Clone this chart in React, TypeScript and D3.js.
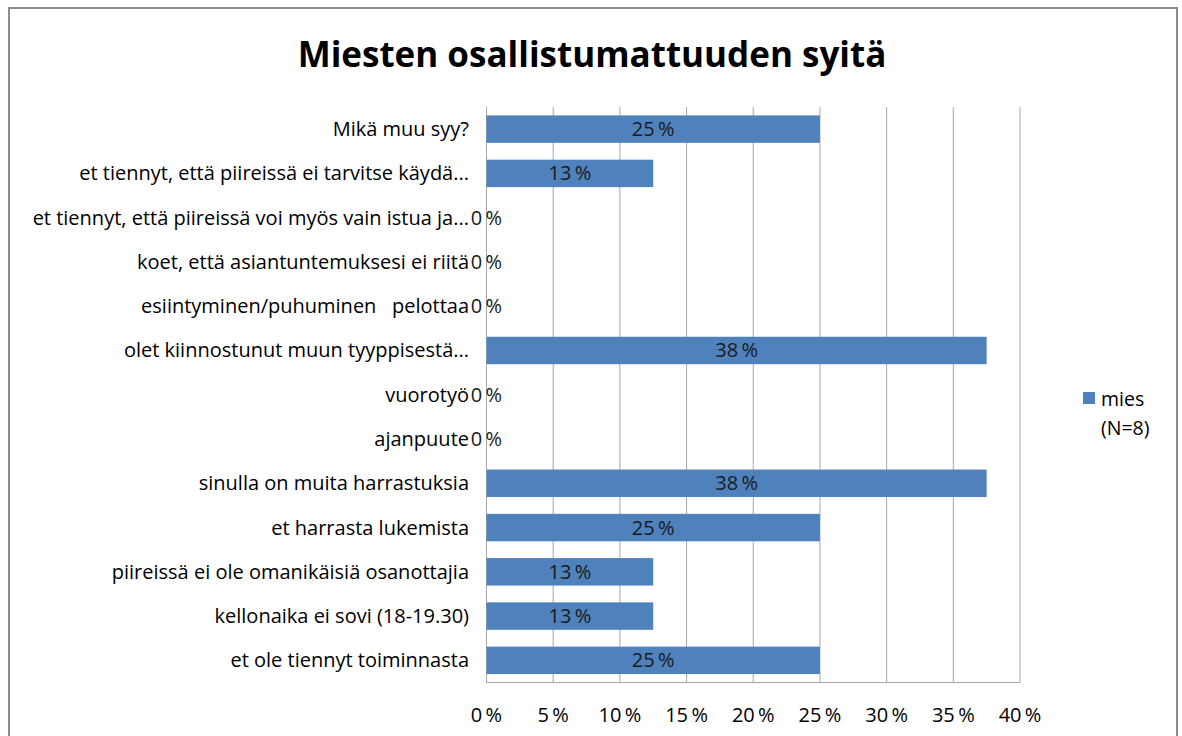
import React from "react";
import * as d3 from "d3";

const categories: string[] = [
  "Mikä muu syy?",
  "et tiennyt, että piireissä ei tarvitse käydä...",
  "et tiennyt, että piireissä voi myös vain istua ja...",
  "koet, että asiantuntemuksesi ei riitä",
  "esiintyminen/puhuminen   pelottaa",
  "olet kiinnostunut muun tyyppisestä...",
  "vuorotyö",
  "ajanpuute",
  "sinulla on muita harrastuksia",
  "et harrasta lukemista",
  "piireissä ei ole omanikäisiä osanottajia",
  "kellonaika ei sovi (18-19.30)",
  "et ole tiennyt toiminnasta",
];
const values: number[] = [25, 12.5, 0, 0, 0, 37.5, 0, 0, 37.5, 25, 12.5, 12.5, 25];
const xTicks: number[] = [0, 5, 10, 15, 20, 25, 30, 35, 40];
const title = "Miesten osallistumattuuden syitä";
const seriesName = ["mies", "(N=8)"];

const FONT = "'Open Sans', 'Noto Sans', sans-serif";
const BAR = "#4f81bd";
const GRID = "#a6a6a6";

export default function App() {
  const left = 486.5;
  const right = 1020;
  const top = 107;
  const bottom = 682.5;
  const x = d3.scaleLinear().domain([0, 40]).range([left, right]);
  const y = d3
    .scaleBand<string>()
    .domain(categories)
    .range([top, bottom])
    .paddingInner(0.38)
    .paddingOuter(0.19);
  const pct = (v: number) => `${Math.round(v)}\u2009%`;

  return (
    <svg
      width={1182}
      height={736}
      style={{ position: "absolute", left: 0, top: 0, background: "#fff" }}
      fontFamily={FONT}
    >
      <rect x={9} y={8} width={1168} height={740} fill="#fff" stroke="#8c8c8c" strokeWidth={2} />
      <text x={592} y={67} textAnchor="middle" fontSize={35} fontWeight="bold" fill="#000">
        {title}
      </text>
      {xTicks.map((t) => (
        <line key={t} x1={x(t)} x2={x(t)} y1={top} y2={bottom} stroke={GRID} strokeWidth={1} />
      ))}
      <line x1={left} x2={right} y1={bottom} y2={bottom} stroke={GRID} strokeWidth={1} />
      {xTicks.map((t) => (
        <text key={"t" + t} x={x(t)} y={722} textAnchor="middle" fontSize={20} fill="#000">
          {pct(t)}
        </text>
      ))}
      {categories.map((c, i) => (
        <g key={c}>
          <text
            x={469}
            y={(y(c) as number) + y.bandwidth() / 2 + 7}
            textAnchor="end"
            fontSize={20}
            fill="#000"
            style={{ whiteSpace: "pre" }}
          >
            {c}
          </text>
          {values[i] > 0 && (
            <rect
              x={x(0)}
              y={y(c) as number}
              width={x(values[i]) - x(0)}
              height={y.bandwidth()}
              fill={BAR}
            />
          )}
          <text
            x={(x(0) + x(values[i])) / 2}
            y={(y(c) as number) + y.bandwidth() / 2 + 7}
            textAnchor="middle"
            fontSize={20}
            fill="#1a1a1a"
          >
            {pct(values[i])}
          </text>
        </g>
      ))}
      <rect x={1083} y={392} width={12} height={12} fill={BAR} />
      <text x={1101} y={406} fontSize={19.5} fill="#000">
        {seriesName[0]}
      </text>
      <text x={1101} y={435} fontSize={19.5} fill="#000">
        {seriesName[1]}
      </text>
    </svg>
  );
}
